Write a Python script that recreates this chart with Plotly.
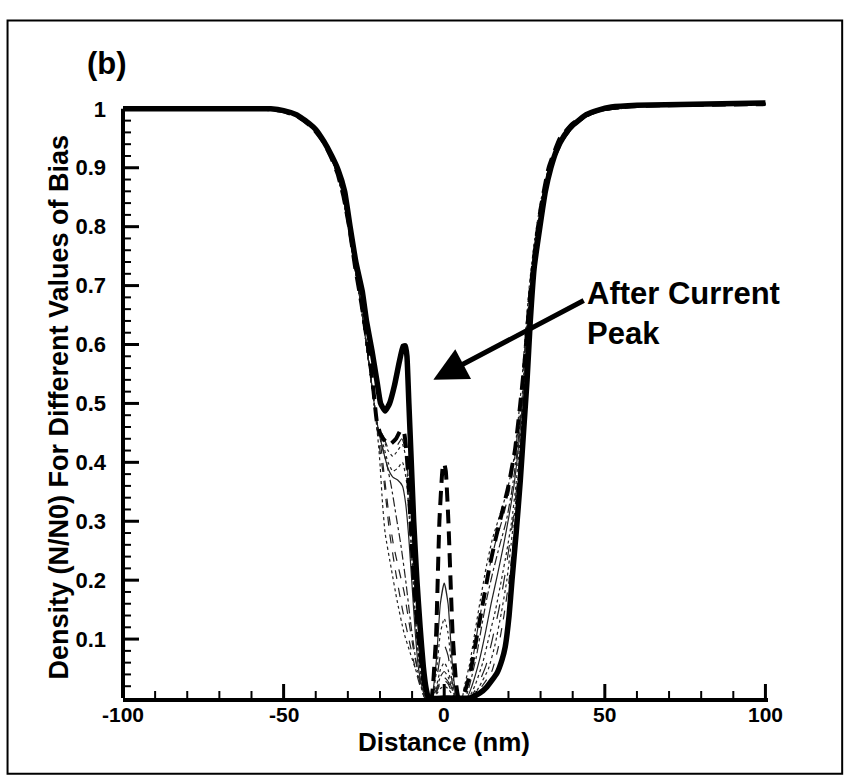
import plotly.graph_objects as go

# ---------------- data ----------------
# Bold solid curve: "After Current Peak"
AFTER_X = [-100, -60, -54, -50, -46, -42, -40, -37.5, -35, -33, -31, -29.3, -27.5, -25.5, -24.2,
           -22.5, -21, -19.8, -18.4, -17, -15.5, -14, -12.8, -12.1, -11.6, -11, -10.4, -9.5,
           -8.5, -7.5, -6.5, -5.6, -4.8, 0, 8, 11, 13.3, 16.4, 18, 19, 20.2, 21.1, 22.4, 23.7,
           24.8, 25.8, 26.8, 28, 29.8, 31.5, 33.2, 35, 37.4, 40, 44.2, 48, 52, 60, 100]
AFTER_Y = [1.0, 1.0, 1.0, 0.997, 0.99, 0.975, 0.965, 0.945, 0.92, 0.896, 0.86, 0.8, 0.74, 0.69,
           0.64, 0.59, 0.54, 0.50, 0.487, 0.5, 0.53, 0.57, 0.597, 0.598, 0.58, 0.50, 0.42, 0.30,
           0.2, 0.12, 0.053, 0.015, 0.0, 0.0, 0.0, 0.008, 0.019, 0.042, 0.065, 0.087, 0.14, 0.2,
           0.28, 0.37, 0.46, 0.54, 0.64, 0.73, 0.8, 0.86, 0.9, 0.93, 0.955, 0.972, 0.99, 0.998,
           1.003, 1.006, 1.01]

# Bold dashed curve
DASH_X = [-100, -56, -50, -45, -41, -37.5, -35, -33.2, -31.3, -29.6, -27.7, -25.8, -24.4, -23.3,
          -22, -21, -20, -19, -17, -15, -13.5, -12.5, -11.5, -10.5, -9.5, -8, -6.5, -5, -4,
          -3.5, -2.5, -1.5, -0.5, 0, 0.5, 1.3, 2.6, 3.8, 4.5, 6, 8, 10, 12, 14, 16, 18, 20, 22,
          23.5, 25, 26.5, 28, 30, 32.5, 36, 40, 45, 50, 60, 100]
DASH_Y = [1.0, 1.0, 0.996, 0.985, 0.968, 0.943, 0.915, 0.89, 0.85, 0.8, 0.73, 0.67, 0.62, 0.58,
          0.52, 0.47, 0.45, 0.44, 0.43, 0.44, 0.455, 0.45, 0.40, 0.30, 0.20, 0.10, 0.03, 0.0,
          0.0, 0.02, 0.11, 0.30, 0.39, 0.398, 0.385, 0.30, 0.11, 0.02, 0.0, 0.005, 0.04, 0.1,
          0.16, 0.22, 0.27, 0.315, 0.36, 0.42, 0.49, 0.57, 0.67, 0.75, 0.83, 0.9, 0.95, 0.975,
          0.992, 1.0, 1.005, 1.008]

# Shared upper-left profile of the thin curves
UL_X = [-100, -56, -50, -45, -41, -37.5, -35, -33.3, -31.5, -29.8, -27.8, -26, -24.5, -23, -21.8]
UL_Y = [1.0, 1.0, 0.996, 0.985, 0.968, 0.943, 0.915, 0.89, 0.85, 0.8, 0.73, 0.67, 0.61, 0.55, 0.5]

# Thin curves: lower-left part
LL = {
    "T1": ([-21, -20.3, -19.9, -19.2, -18.4, -16.5, -14.7, -12.5, -10.5, -9, -7.5, -6.5, -5.5],
           [0.46, 0.42, 0.39, 0.33, 0.28, 0.22, 0.166, 0.11, 0.075, 0.05, 0.025, 0.01, 0.0]),
    "T2": ([-21, -20, -19, -18, -17, -15, -13, -11, -9, -7.5, -6],
           [0.46, 0.42, 0.38, 0.33, 0.28, 0.21, 0.15, 0.1, 0.05, 0.02, 0.0]),
    "T3": ([-20.8, -19.5, -18, -16.5, -15, -13.5, -12, -10.5, -9, -7.5, -6],
           [0.46, 0.43, 0.40, 0.36, 0.31, 0.26, 0.2, 0.13, 0.07, 0.025, 0.0]),
    "T4": ([-20.5, -19, -17.5, -16, -14.5, -13, -12, -11, -10, -9, -8, -6.5, -5.5],
           [0.455, 0.42, 0.39, 0.375, 0.37, 0.36, 0.33, 0.27, 0.19, 0.11, 0.05, 0.01, 0.0]),
    "T5": ([-20.5, -19, -17.5, -16, -14.5, -13, -12, -11, -10, -9, -8, -6.5, -5.5],
           [0.455, 0.44, 0.42, 0.41, 0.42, 0.43, 0.41, 0.34, 0.24, 0.14, 0.07, 0.015, 0.0]),
    "T6": ([-20.5, -19, -17.5, -16, -14.5, -13.2, -12, -11, -10, -9, -8, -6.5, -5.5],
           [0.46, 0.445, 0.425, 0.42, 0.43, 0.44, 0.42, 0.36, 0.27, 0.17, 0.09, 0.02, 0.0]),
    "T7": ([-20.5, -19, -17.5, -16, -14.5, -13, -11.8, -10.8, -9.8, -8.8, -7.8, -6.5, -5.5],
           [0.455, 0.43, 0.4, 0.385, 0.39, 0.4, 0.37, 0.3, 0.21, 0.12, 0.06, 0.015, 0.0]),
    "T8": ([-21, -19.8, -18.5, -17.2, -15.8, -14.2, -12.5, -11, -9.5, -8, -6.5, -5.5],
           [0.46, 0.43, 0.37, 0.31, 0.26, 0.22, 0.18, 0.13, 0.08, 0.04, 0.01, 0.0]),
}

# Thin curves: small central peaks
CP = {
    "T1": ([-4, -2.5, -1.2, 0, 1.2, 2.5, 4], [0.0, 0.006, 0.016, 0.02, 0.016, 0.006, 0.0]),
    "T2": ([-4, -2.5, -1.2, 0, 1.2, 2.5, 4], [0.0, 0.009, 0.024, 0.03, 0.024, 0.009, 0.0]),
    "T3": ([-4, -2.5, -1.2, 0, 1.2, 2.5, 4], [0.0, 0.014, 0.036, 0.045, 0.036, 0.014, 0.0]),
    "T4": ([-4, -2.5, -1.2, 0, 1.2, 2.5, 4], [0.0, 0.06, 0.16, 0.195, 0.16, 0.06, 0.0]),
    "T5": ([-4, -2.5, -1.2, 0, 1.2, 2.5, 4], [0.0, 0.042, 0.11, 0.135, 0.11, 0.042, 0.0]),
    "T6": ([-4, -2.5, -1.2, 0, 1.2, 2.5, 4], [0.0, 0.027, 0.072, 0.09, 0.072, 0.027, 0.0]),
    "T7": ([-4, -2.5, -1.2, 0, 1.2, 2.5, 4], [0.0, 0.018, 0.048, 0.06, 0.048, 0.018, 0.0]),
    "T8": ([-4, -2.5, -1.2, 0, 1.2, 2.5, 4], [0.0, 0.011, 0.028, 0.035, 0.028, 0.011, 0.0]),
}

# Thin curves: right branch
RB = {
    "T1": ([5.5, 6.3, 8, 9.5, 11.2, 13, 15, 17.3, 19.5, 21.5, 23, 24.2, 25.3, 26.5, 28.2, 30.3,
            32.5, 35.5, 39, 43, 48, 53, 60, 100],
           [0, 0.02, 0.06, 0.11, 0.165, 0.22, 0.27, 0.31, 0.35, 0.40, 0.47, 0.54, 0.62, 0.7,
            0.78, 0.85, 0.9, 0.94, 0.968, 0.985, 0.996, 1.0, 1.004, 1.008]),
    "T2": ([6, 7, 9, 10.5, 12.2, 14, 16, 18.2, 20.2, 22, 23.4, 24.5, 25.6, 26.8, 28.4, 30.5,
            32.7, 35.7, 39.2, 43.3, 48, 53, 60, 100],
           [0, 0.02, 0.07, 0.12, 0.17, 0.22, 0.265, 0.305, 0.35, 0.41, 0.48, 0.55, 0.63, 0.71,
            0.78, 0.85, 0.9, 0.94, 0.968, 0.985, 0.996, 1.0, 1.004, 1.008]),
    "T3": ([6.5, 7.8, 10, 11.6, 13.3, 15.2, 17.3, 19.3, 21, 22.5, 23.8, 24.9, 25.9, 27, 28.6,
            30.7, 32.9, 35.9, 39.4, 43.5, 48.2, 53, 60, 100],
           [0, 0.02, 0.07, 0.12, 0.17, 0.215, 0.26, 0.3, 0.35, 0.41, 0.48, 0.56, 0.64, 0.71,
            0.78, 0.85, 0.9, 0.94, 0.968, 0.985, 0.996, 1.0, 1.004, 1.008]),
    "T4": ([7, 8.6, 11, 12.8, 14.6, 16.6, 18.5, 20.2, 21.7, 23, 24.2, 25.2, 26.2, 27.3, 28.9,
            31, 33.2, 36.2, 39.7, 43.8, 48.5, 53.5, 60, 100],
           [0, 0.02, 0.065, 0.11, 0.16, 0.21, 0.26, 0.31, 0.36, 0.42, 0.49, 0.57, 0.65, 0.72,
            0.79, 0.855, 0.9, 0.94, 0.968, 0.985, 0.996, 1.0, 1.004, 1.008]),
    "T5": ([7.5, 9.5, 12, 14, 16, 17.8, 19.5, 21, 22.3, 23.5, 24.6, 25.6, 26.5, 27.6, 29.2,
            31.3, 33.5, 36.5, 40, 44, 48.8, 54, 60, 100],
           [0, 0.02, 0.06, 0.105, 0.15, 0.2, 0.25, 0.3, 0.36, 0.43, 0.5, 0.58, 0.66, 0.73,
            0.8, 0.86, 0.905, 0.943, 0.97, 0.986, 0.997, 1.0, 1.004, 1.008]),
    "T6": ([8, 10.3, 13, 15, 17, 18.8, 20.3, 21.6, 22.8, 23.9, 24.9, 25.8, 26.7, 27.8, 29.4,
            31.5, 33.7, 36.7, 40.2, 44.2, 49, 54, 60, 100],
           [0, 0.02, 0.055, 0.1, 0.15, 0.205, 0.26, 0.31, 0.37, 0.44, 0.51, 0.59, 0.67, 0.74,
            0.805, 0.865, 0.907, 0.944, 0.97, 0.987, 0.997, 1.0, 1.004, 1.008]),
    "T7": ([8.5, 11, 13.8, 15.8, 17.8, 19.5, 20.8, 22, 23.1, 24.2, 25.2, 26.1, 27, 28.1, 29.7,
            31.8, 34, 37, 40.5, 44.5, 49.2, 54.5, 60, 100],
           [0, 0.02, 0.05, 0.09, 0.145, 0.2, 0.26, 0.32, 0.38, 0.45, 0.52, 0.6, 0.68, 0.75,
            0.81, 0.87, 0.91, 0.946, 0.971, 0.987, 0.997, 1.0, 1.004, 1.008]),
    "T8": ([9, 11.8, 14.8, 16.8, 18.6, 20.2, 21.4, 22.5, 23.5, 24.5, 25.4, 26.3, 27.2, 28.4, 30,
            32.1, 34.3, 37.3, 40.8, 44.8, 49.5, 55, 60, 100],
           [0, 0.02, 0.045, 0.085, 0.14, 0.2, 0.26, 0.32, 0.39, 0.46, 0.53, 0.61, 0.69, 0.76,
            0.82, 0.875, 0.913, 0.948, 0.972, 0.988, 0.998, 1.0, 1.004, 1.008]),
}

THIN_STYLES = {"T1": "dot", "T2": "dash", "T3": "dashdot", "T4": "solid",
               "T5": "dot", "T6": "longdash", "T7": "dot", "T8": "dash"}

X_TICKS = [-100, -50, 0, 50, 100]
X_TICK_TEXT = ["-100", "-50", "0", "50", "100"]
Y_TICKS = [0.1, 0.2, 0.3, 0.4, 0.5, 0.6, 0.7, 0.8, 0.9, 1.0]
Y_TICK_TEXT = ["0.1", "0.2", "0.3", "0.4", "0.5", "0.6", "0.7", "0.8", "0.9", "1"]

# ---------------- figure ----------------
FONT = "Liberation Sans, Arial, Helvetica, sans-serif"
X_RANGE = [-100, 100.8]
Y_RANGE = [0, 1.015]
MARGIN = dict(l=123, r=81, t=100, b=83, pad=0)
PLOT_W = 849 - MARGIN["l"] - MARGIN["r"]
PLOT_H = 781 - MARGIN["t"] - MARGIN["b"]
PX_PER_X = PLOT_W / (X_RANGE[1] - X_RANGE[0])
PX_PER_Y = PLOT_H / (Y_RANGE[1] - Y_RANGE[0])

fig = go.Figure()

# tick marks, drawn as short segments on the axes (major / minor)
def tick_trace(xs, ys, width):
    return go.Scatter(x=xs, y=ys, mode="lines", showlegend=False, hoverinfo="skip",
                      line=dict(color="black", width=width))

maj_x, maj_y, min_x, min_y = [], [], [], []
for i in range(21):
    xv = -100 + 10 * i
    if xv % 50 == 0:
        maj_x += [xv, xv, None]; maj_y += [0, 14 / PX_PER_Y, None]
    else:
        min_x += [xv, xv, None]; min_y += [0, 7 / PX_PER_Y, None]
for i in range(1, 51):
    yv = 0.02 * i
    if i % 5 == 0:
        maj_x += [-100, -100 + 16 / PX_PER_X, None]; maj_y += [yv, yv, None]
    else:
        min_x += [-100, -100 + 8 / PX_PER_X, None]; min_y += [yv, yv, None]
fig.add_trace(tick_trace(min_x, min_y, 2))
fig.add_trace(tick_trace(maj_x, maj_y, 3))

for name in ["T1", "T2", "T3", "T4", "T5", "T6", "T7", "T8"]:
    xs = UL_X + LL[name][0] + CP[name][0] + RB[name][0]
    ys = UL_Y + LL[name][1] + CP[name][1] + RB[name][1]
    fig.add_trace(go.Scatter(x=xs, y=ys, mode="lines", showlegend=False, hoverinfo="skip",
                             line=dict(color="#222222", width=1.2, dash=THIN_STYLES[name],
                                       shape="spline", smoothing=0.5)))

fig.add_trace(go.Scatter(x=DASH_X, y=DASH_Y, mode="lines", showlegend=False, hoverinfo="skip",
                         line=dict(color="black", width=4, dash="14px,8px",
                                   shape="spline", smoothing=0.4)))
fig.add_trace(go.Scatter(x=AFTER_X, y=AFTER_Y, mode="lines", showlegend=False, hoverinfo="skip",
                         line=dict(color="black", width=5.5, shape="spline", smoothing=0.4)))

fig.update_layout(
    width=849, height=781,
    margin=MARGIN,
    paper_bgcolor="white", plot_bgcolor="white",
    font=dict(family=FONT, color="black"),
    showlegend=False,
    xaxis=dict(range=X_RANGE, tickmode="array", tickvals=X_TICKS, ticktext=X_TICK_TEXT,
               ticks="", showticklabels=False, showline=True, linewidth=4, linecolor="black",
               showgrid=False, zeroline=False),
    yaxis=dict(range=Y_RANGE, tickmode="array", tickvals=Y_TICKS, ticktext=Y_TICK_TEXT,
               ticks="", showline=False, showgrid=False, zeroline=False, ticklabelstandoff=16,
               tickfont=dict(family=FONT, size=22, weight="bold", color="black")),
)

# x tick labels placed on the x scale just under the axis
for xv, txt in zip(X_TICKS, X_TICK_TEXT):
    fig.add_annotation(text=txt, xref="x", yref="paper", x=xv, y=-0.027, showarrow=False,
                       xanchor="center", yanchor="middle", borderpad=0,
                       font=dict(family=FONT, size=21, weight="bold", color="black"))

# y axis line (ends at value 1)
fig.add_shape(type="line", xref="paper", yref="y", x0=0, x1=0, y0=0, y1=1.0,
              line=dict(color="black", width=4))
# outer frame
fig.add_shape(type="rect", xref="paper", yref="paper", x0=-0.179, x1=1.115, y0=-0.1265, y1=1.133,
              line=dict(color="black", width=2), fillcolor="rgba(0,0,0,0)")

# axis titles and labels
fig.add_annotation(text="Distance (nm)", xref="x", yref="paper", x=0, y=-0.073,
                   showarrow=False, xanchor="center", yanchor="middle", borderpad=0,
                   font=dict(family=FONT, size=26, weight="bold", color="black"))
fig.add_annotation(text="Density (N/N0) For Different Values of Bias", xref="paper", yref="paper",
                   x=-0.099, y=0.486, textangle=-90, showarrow=False,
                   xanchor="center", yanchor="middle",
                   font=dict(family=FONT, size=27, weight="bold", color="black"))
fig.add_annotation(text="(b)", xref="paper", yref="paper", x=-0.025, y=1.061, showarrow=False,
                   xanchor="center", yanchor="middle",
                   font=dict(family=FONT, size=31, weight="bold", color="black"))
fig.add_annotation(text="After Current<br>Peak", xref="x", yref="y", x=43.9, y=0.72,
                   showarrow=False, xanchor="left", yanchor="top", align="left",
                   font=dict(family=FONT, size=31, weight="bold", color="black"))
fig.add_annotation(text="", xref="x", yref="y", x=-3.4, y=0.54, axref="x", ayref="y",
                   ax=43.9, ay=0.676, showarrow=True, arrowhead=2, arrowsize=1.35,
                   arrowwidth=5, arrowcolor="black", standoff=0, startstandoff=0)

fig.write_html("out.html")
